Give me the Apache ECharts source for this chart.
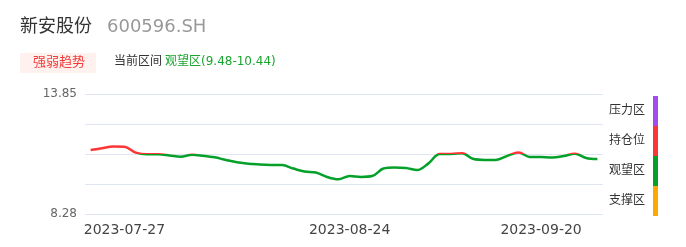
<!DOCTYPE html>
<html>
<head>
<meta charset="utf-8">
<script src="https://cdn.jsdelivr.net/npm/echarts@6/dist/echarts.min.js"></script>
<style>
html,body{margin:0;padding:0;background:#fff;}
#chart{width:686px;height:247px;}
</style>
</head>
<body>
<div id="chart"></div>
<script>
// ---- data ----
var stockName = '新安股份';
var stockCode = '600596.SH';
var trendTag = '强弱趋势';
var rangeLabel = '当前区间';
var rangeText = '观望区(9.48-10.44)';
var dates = [
  '2023-07-24','2023-07-25','2023-07-26','2023-07-27','2023-07-28','2023-07-31',
  '2023-08-01','2023-08-02','2023-08-03','2023-08-04','2023-08-07','2023-08-08',
  '2023-08-09','2023-08-10','2023-08-11','2023-08-14','2023-08-15','2023-08-16',
  '2023-08-17','2023-08-18','2023-08-21','2023-08-22','2023-08-23','2023-08-24',
  '2023-08-25','2023-08-28','2023-08-29','2023-08-30','2023-08-31','2023-09-01',
  '2023-09-04','2023-09-05','2023-09-06','2023-09-07','2023-09-08','2023-09-11',
  '2023-09-12','2023-09-13','2023-09-14','2023-09-15','2023-09-20','2023-09-21',
  '2023-09-22','2023-09-25','2023-09-26','2023-09-27'
];
var labelDates = ['2023-07-27','2023-08-24','2023-09-20'];
var prices = [
  11.25, 11.33, 11.41, 11.40, 11.13, 11.05, 11.05, 11.00, 10.94, 11.03,
  10.98, 10.91, 10.79, 10.68, 10.61, 10.58, 10.56, 10.55, 10.39, 10.25,
  10.21, 10.00, 9.89, 10.04, 10.00, 10.04, 10.39, 10.44, 10.42, 10.32,
  10.63, 11.07, 11.07, 11.10, 10.83, 10.79, 10.79, 10.98, 11.13, 10.93,
  10.92, 10.90, 10.97, 11.08, 10.88, 10.83
];
var yMin = 8.28, yMax = 13.85;
var zoneNames = ['支撑区','观望区','持仓位','压力区'];
var zoneBounds = [8.28, 9.6725, 11.065, 12.4575, 13.85];
var zoneColors = ['#ffa800','#05a02a','#ff3535','#a24cf0'];

var chart = echarts.init(document.getElementById('chart'));
var font = '"DejaVu Sans","Noto Sans CJK SC",sans-serif';
var pieces = zoneNames.map(function(n, i){
  return {gte: zoneBounds[i], lt: zoneBounds[i+1], label: n, color: zoneColors[i]};
});
pieces[3].lte = zoneBounds[4]; delete pieces[3].lt;

chart.setOption({
  animation: false,
  textStyle: {fontFamily: font},
  graphic: [
    {type:'text', left:20, top:18, style:{text:stockName, fontSize:18, fill:'#333', fontFamily:font}},
    {type:'text', left:107, top:18, style:{text:stockCode, fontSize:18, fill:'#999', fontFamily:font}},
    {type:'rect', left:20, top:53, shape:{width:76, height:20}, style:{fill:'#fff1ee'}},
    {type:'text', left:33, top:56, style:{text:trendTag, fontSize:13, fill:'#f23a3a', fontFamily:font}},
    {type:'text', left:114, top:56, style:{text:rangeLabel, fontSize:12, fill:'#333', fontFamily:font}},
    {type:'text', left:165, top:56, style:{text:rangeText, fontSize:12, fill:'#1aa530', fontFamily:font}}
  ],
  grid: {left:85, right:83, top:94, bottom:33},
  xAxis: {
    type:'category', data: dates, boundaryGap: true,
    axisLine:{show:false}, axisTick:{show:false},
    axisLabel:{
      color:'#444', fontSize:14, margin:9, fontFamily:font,
      interval: function(i, v){ return labelDates.indexOf(v) >= 0; }
    }
  },
  yAxis: [{
    type:'value', min:yMin, max:yMax, interval: yMax - yMin,
    splitLine:{show:false}, axisLine:{show:false}, axisTick:{show:false},
    axisLabel:{color:'#666', fontSize:12, margin:8,
      formatter:function(v){ return (Math.abs(v-yMin)<1e-6||Math.abs(v-yMax)<1e-6) ? v.toFixed(2) : ''; }}
  },{
    type:'value', min:0, max:4, interval:1, position:'right',
    axisLabel:{show:false}, axisLine:{show:false}, axisTick:{show:false},
    splitLine:{show:true, lineStyle:{color:'#e0e6f1'}}
  }],
  visualMap: {
    type:'piecewise', seriesIndex:0, dimension:1,
    pieces: pieces, orient:'vertical', right:13, top:81,
    itemWidth:5, itemHeight:30, itemGap:0, itemSymbol:'rect',
    align:'right', textGap:8, hoverLink:false, selectedMode:false,
    textStyle:{color:'#333', fontSize:12, fontFamily:font}
  },
  series: [{
    type:'line', data: prices, yAxisIndex:0, smooth:0.35,
    showSymbol:false, symbol:'none',
    lineStyle:{width:2.5}
  }]
});
</script>
</body>
</html>
